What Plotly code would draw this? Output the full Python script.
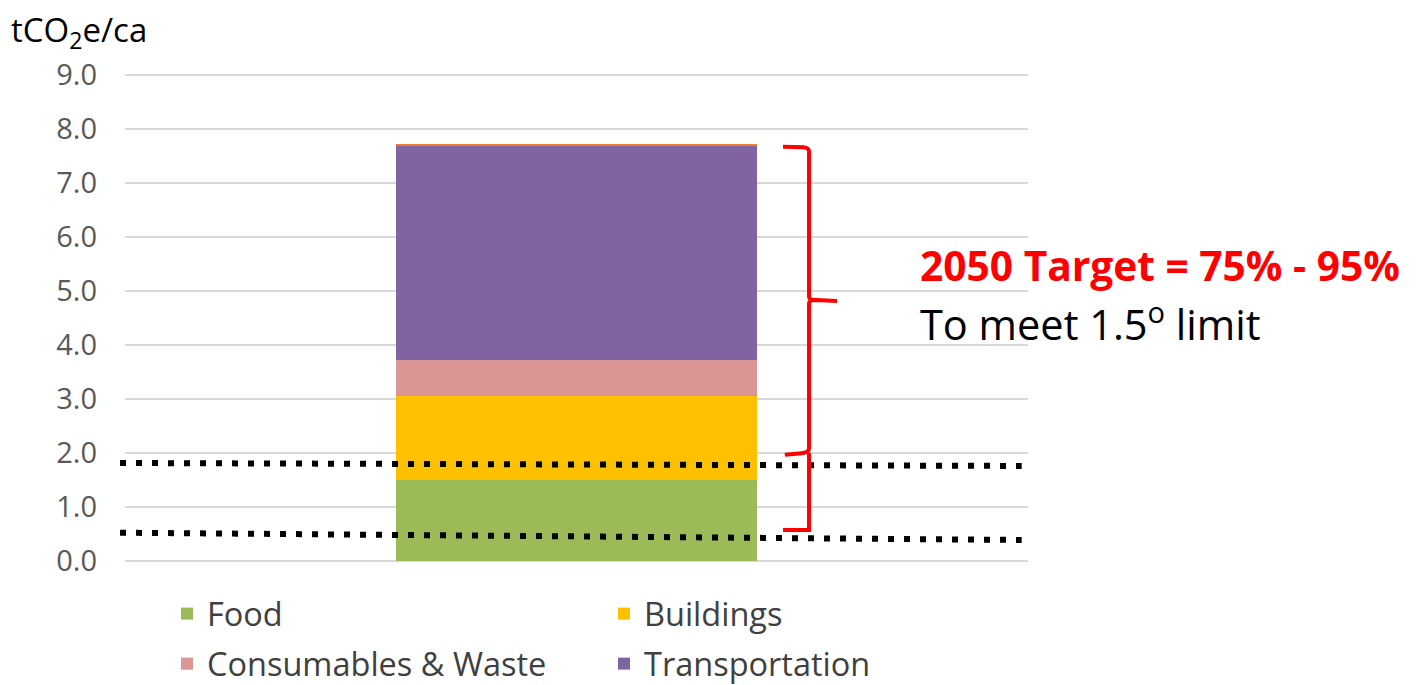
import plotly.graph_objects as go

# ---------------- data ----------------
categories = ["Current"]
series_names = ["Food", "Buildings", "Consumables & Waste", "Transportation", "Other"]
food = [1.50]
buildings = [1.55]
consumables = [0.67]
transportation = [3.98]
other = [0.02]
series_colors = ["#9BBB59", "#FFC000", "#D99694", "#8064A2", "#ED7D31"]
legend_rows = ["legend", "legend", "legend2", "legend2", "legend"]

y_ticks = [0, 1, 2, 3, 4, 5, 6, 7, 8, 9]

# hand-drawn guide lines (y at left end, y at right end)
upper_limit_line = [1.815, 1.76]
lower_limit_line = [0.524, 0.389]
# bracket levels (top, middle, split, bottom)
bracket_levels = [7.672, 4.833, 2.006, 0.574]

FONT = "Open Sans"

fig = go.Figure()
values = [food, buildings, consumables, transportation, other]
for name, vals, col, lg in zip(series_names, values, series_colors, legend_rows):
    fig.add_trace(go.Bar(
        x=categories, y=vals, name=name,
        marker=dict(color=col, line=dict(width=0)),
        width=0.4,
        legend=lg,
        showlegend=(name != "Other"),
        hoverinfo="name+y",
    ))

# dotted guide lines
for ln in (upper_limit_line, lower_limit_line):
    fig.add_shape(type="line", xref="paper", yref="y",
                  x0=-0.0055, x1=0.993, y0=ln[0], y1=ln[1],
                  line=dict(color="black", width=6, dash="6px,10px"),
                  layer="above")

# red bracket
t, m, s, b = bracket_levels
xl, xv, xr = 0.7287, 0.7575, 0.7885
path = (
    f"M {xl},{t} L {xv-0.006},{t-0.01} Q {xv},{t-0.02} {xv},{t-0.09} "
    f"L {xv},{m+0.06} Q {xv},{m} {xv+0.008},{m} L {xr},{m-0.02} "
    f"M {xv+0.008},{m} Q {xv},{m} {xv},{m-0.06} "
    f"L {xv},{s+0.08} Q {xv},{s} {xv-0.008},{s-0.01} L {xl+0.002},{s-0.04} "
    f"M {xv},{s} L {xv},{b} L {xl},{b}"
)
fig.add_shape(type="path", xref="paper", yref="y", path=path,
              line=dict(color="#FF0000", width=4), layer="above")

# annotations
fig.add_annotation(xref="paper", yref="y", x=0.878, y=5.48, xanchor="left", yanchor="middle",
                   text="<b>2050 Target = 75% - 95%</b>", showarrow=False,
                   font=dict(family=FONT, size=40.7, color="#FF0000"))
fig.add_annotation(xref="paper", yref="y", x=0.878, y=4.43, xanchor="left", yanchor="middle",
                   text="To meet 1.5<sup>o</sup> limit", showarrow=False,
                   font=dict(family=FONT, size=41.5, color="#000000"))
fig.add_annotation(xref="paper", yref="paper", x=-0.128, y=1.086, xanchor="left", yanchor="middle",
                   text="tCO<sub>2</sub>e/ca", showarrow=False,
                   font=dict(family=FONT, size=33, color="#000000"))

legend_common = dict(orientation="h", x=0.0465, xanchor="left", yanchor="top",
                     traceorder="normal", entrywidth=392, bgcolor="rgba(0,0,0,0)",
                     font=dict(family=FONT, size=32.5, color="#404040"))

fig.update_layout(
    width=1408, height=677,
    margin=dict(l=117, r=388, t=65, b=124, autoexpand=False),
    barmode="stack",
    paper_bgcolor="white", plot_bgcolor="white",
    font=dict(family=FONT, color="#404040"),
    legend=dict(y=-0.0512, **legend_common),
    legend2=dict(y=-0.1537, **legend_common),
    xaxis=dict(type="category", range=[-0.5, 0.5], showticklabels=False,
               showgrid=False, zeroline=False, showline=False, ticks=""),
    yaxis=dict(range=[0, 9.037], tickvals=y_ticks, tickformat=".1f",
               showgrid=True, gridcolor="#D9D9D9", gridwidth=2,
               zeroline=True, zerolinecolor="#D9D9D9", zerolinewidth=2,
               tickfont=dict(family=FONT, size=29, color="#595959"),
               ticks="", ticklabelstandoff=27),
)

fig.write_html("out.html")
